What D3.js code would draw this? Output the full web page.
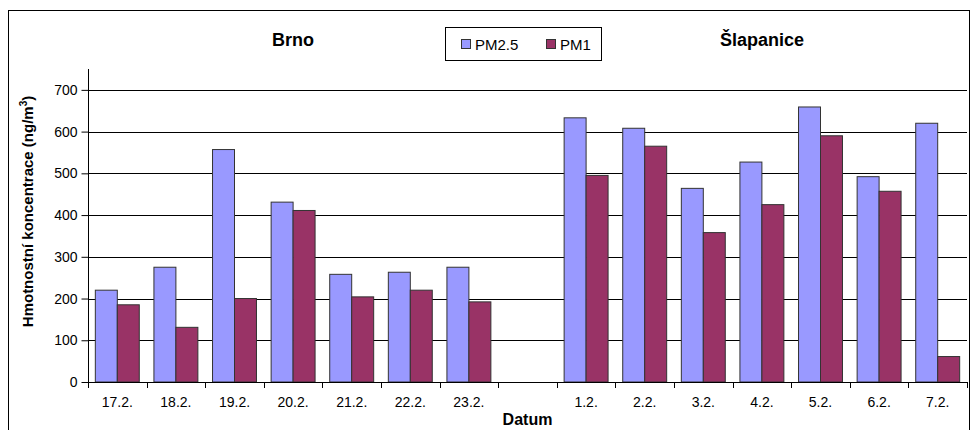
<!DOCTYPE html>
<html><head><meta charset="utf-8">
<script src="https://cdn.jsdelivr.net/npm/d3@7"></script>
<style>body{margin:0;background:#fff}svg{display:block;font-family:"Liberation Sans",Arial,sans-serif}</style>
</head><body>
<svg id="c" width="973" height="430"></svg>
<script>
const categories = ["17.2.","18.2.","19.2.","20.2.","21.2.","22.2.","23.2."," ","1.2.","2.2.","3.2.","4.2.","5.2.","6.2.","7.2."];
const series = ["PM2.5","PM1"];
const pm25 = [220,275,557,431,258,263,275,null,633,608,464,527,659,492,620];
const pm1  = [185,131,200,411,204,220,192,null,495,565,358,425,590,457,61];
const yTicks = [0,100,200,300,400,500,600,700];
const groupTitles = ["Brno","Šlapanice"];
const colors = ["#9999FF","#993366"];

const svg = d3.select("#c");
const L=88, R=967, T=69, B=382;

svg.append("rect").attr("x",8.5).attr("y",10.5).attr("width",961).attr("height",440)
  .attr("fill","none").attr("stroke","#000").attr("stroke-width",1);

const x = d3.scaleBand().domain(categories).range([L,R]).padding(0);
const bw = x.bandwidth();
const x1 = d3.scaleBand().domain(series).range([bw*0.125,bw*0.875]).padding(0);
const y = d3.scaleLinear().domain([0,750]).range([B,T]);

// gridlines
svg.append("g").selectAll("line").data(yTicks.filter(d=>d>0)).join("line")
  .attr("x1",L).attr("x2",R).attr("y1",d=>Math.round(y(d))+0.5).attr("y2",d=>Math.round(y(d))+0.5)
  .attr("stroke","#000").attr("stroke-width",1);

// bars
const data = categories.map((c,i)=>({c, vals:[pm25[i],pm1[i]]}));
const g = svg.append("g");
data.forEach(d=>{
  d.vals.forEach((v,j)=>{
    if(v==null) return;
    g.append("rect")
      .attr("x",x(d.c)+x1(series[j])).attr("y",y(v))
      .attr("width",x1.bandwidth()).attr("height",B-y(v))
      .attr("fill",colors[j]).attr("stroke","#333").attr("stroke-width",1);
  });
});

// y axis
const ya = svg.append("g").attr("transform",`translate(${L+0.5},0)`)
  .call(d3.axisLeft(y).tickValues(yTicks).tickSize(7).tickPadding(4).tickSizeOuter(0));
ya.select(".domain").attr("d",`M0,${T}V${B}`).attr("stroke","#000");
ya.selectAll("text").attr("font-size",14).attr("fill","#000").attr("font-family","Liberation Sans, Arial");
ya.selectAll(".tick line").attr("stroke","#000");

// x axis
const xa = svg.append("g").attr("transform",`translate(0,${B+0.5})`)
  .call(d3.axisBottom(x).tickSize(0).tickPadding(15).tickSizeOuter(0));
xa.select(".domain").attr("d",`M${L},0H${R}`).attr("stroke","#000");
xa.selectAll("text").attr("font-size",14).attr("fill","#000").attr("font-family","Liberation Sans, Arial");
const bounds = categories.map(c=>x(c)).concat([x(categories[categories.length-1])+bw]);
svg.append("g").selectAll("line").data(bounds).join("line")
  .attr("x1",d=>Math.round(d)+0.5).attr("x2",d=>Math.round(d)+0.5)
  .attr("y1",B).attr("y2",B+6).attr("stroke","#000");

// group titles
const titleX = [ (x(categories[0])+x(categories[6])+bw)/2, (x(categories[8])+x(categories[14])+bw)/2 ];
svg.append("g").selectAll("text").data(groupTitles).join("text")
  .attr("x",(d,i)=>titleX[i]).attr("y",46).attr("text-anchor","middle")
  .attr("font-size",18).attr("font-weight","bold").text(d=>d);

// axis titles
svg.append("text").attr("x",(L+R)/2).attr("y",425).attr("text-anchor","middle")
  .attr("font-size",16).attr("font-weight","bold").text("Datum");
const yl = svg.append("text").attr("transform",`translate(33,${(T+B)/2+-14}) rotate(-90)`)
  .attr("text-anchor","middle").attr("font-size",15).attr("font-weight","bold");
yl.append("tspan").text("Hmotnostní koncentrace (ng/m");
yl.append("tspan").attr("font-size",10).attr("dy",-6).text("3");
yl.append("tspan").attr("dy",6).text(")");

// legend
const lg = svg.append("g");
lg.append("rect").attr("x",445.5).attr("y",27.5).attr("width",156).attr("height",33)
  .attr("fill","#fff").attr("stroke","#000");
const lx = [461,546];
series.forEach((s,i)=>{
  lg.append("rect").attr("x",lx[i]+0.5).attr("y",39.5).attr("width",9).attr("height",9)
    .attr("fill",colors[i]).attr("stroke","#333");
  lg.append("text").attr("x",lx[i]+14).attr("y",49.5).attr("font-size",15).text(s);
});
</script>
</body></html>
